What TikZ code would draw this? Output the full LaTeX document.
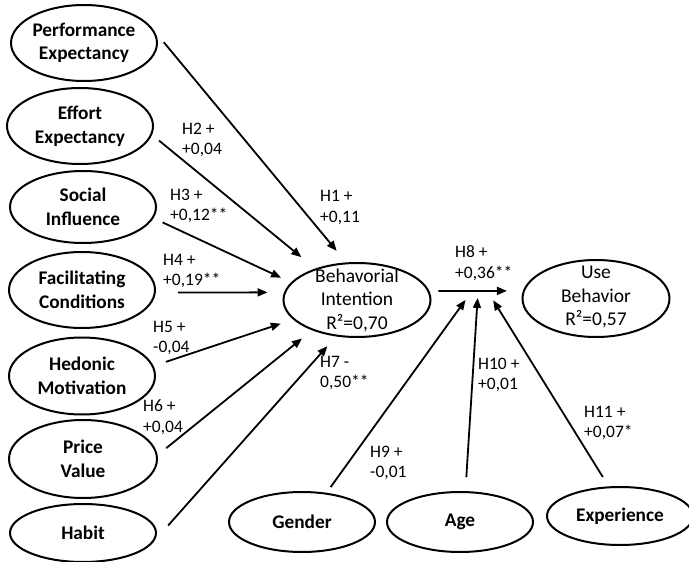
\documentclass[tikz,border=0pt]{standalone}
\usepackage{fontspec}
\setmainfont{Carlito}
\usetikzlibrary{shapes.geometric,arrows.meta}
\tikzset{
    construct/.style={
        ellipse, draw, line width=2pt,
        minimum width=146pt, inner sep=0pt, align=center,
        font=\fontsize{19.3}{23.5}\selectfont\bfseries
    },
    outcome/.style={
        ellipse, draw, line width=2pt,
        minimum width=147pt, inner sep=0pt
    },
    outcome text/.style={
        align=center, inner sep=0pt,
        font=\fontsize{19.5}{23.5}\selectfont
    },
    hyp/.style={
        line width=1.8pt,
        -{Triangle[length=10pt,width=8pt]}
    },
    coef/.style={
        anchor=west, align=left, inner sep=0pt,
        font=\fontsize{17.5}{20.5}\selectfont
    }
}

\begin{document}
\begin{tikzpicture}[x=1pt,y=-1pt]
    \useasboundingbox (0,0) rectangle (689,562);

    \node[construct, minimum height=76pt] (pe) at (84,43) {Performance\\Expectancy};
    \node[construct, minimum height=76pt] (ee) at (80,126) {Effort\\Expectancy};
    \node[construct, minimum height=72pt] (si) at (83,207) {Social\\Influence};
    \node[construct, minimum height=76pt] (fc) at (82,290) {Facilitating\\Conditions};
    \node[construct, minimum height=77pt] (hm) at (82,376) {Hedonic\\Motivation};
    \node[construct, minimum height=78pt, minimum width=148pt] (pv) at (83,459) {Price\\Value};
    \node[construct, minimum height=58pt] (hb) at (83,533) {Habit};

    \node[outcome, minimum height=74pt] (bi) at (357,300) {};
    \node[outcome text] (bi-text) at (bi) {Behavorial\\Intention\\R²=0,70};
    \node[outcome, minimum height=77pt] (ub) at (596,298.5) {};
    \node[outcome text] (ub-text) at (596,297) {Use\\Behavior\\R²=0,57};

    \node[construct, minimum height=60pt] (gen) at (302,522) {Gender};
    \node[construct, minimum height=60pt] (age) at (460,522) {Age};
    \node[construct, minimum height=58pt] (exp) at (620,516) {Experience};

    \draw[hyp, shorten <=15pt, shorten >=15pt] (pe.10) -- (bi.106);
    \draw[hyp, shorten <=9pt, shorten >=18pt] (ee.-7) -- (bi.143);
    \draw[hyp, shorten <=10pt, shorten >=11pt] (si.-9) -- (bi.165);
    \draw[hyp, shorten <=22pt, shorten >=16.5pt] (fc.-2) -- (bi.174);
    \draw[hyp, shorten <=13pt, shorten >=13pt] (hm.8) -- (bi.197);
    \draw[hyp, shorten <=11pt, shorten >=13pt] (pv.3) -- (bi.214);
    \draw[hyp, shorten <=26pt, shorten >=13pt] (hb.-10) -- (bi.240);
    \draw[hyp, shorten <=9pt, shorten >=16pt] (bi.7) -- (ub.174)
        coordinate[pos=.455] (m9) coordinate[pos=.52] (m10) coordinate[pos=.62] (m11);
    \draw[hyp, shorten <=7pt, shorten >=11pt] (gen.50) -- (m9);
    \draw[hyp, shorten <=14pt, shorten >=7pt] (age.80) -- (m10);
    \draw[hyp, shorten <=11pt, shorten >=11pt] (exp.111) -- (m11);

    \node[coef] (h1) at (320,207.5) {H1 +\\+0,11};
    \node[coef] (h2) at (182,140) {H2 +\\+0,04};
    \node[coef] (h3) at (170,206) {H3 +\\+0,12**};
    \node[coef] (h4) at (163,271) {H4 +\\+0,19**};
    \node[coef] (h5) at (153,338) {H5 +\\-0,04};
    \node[coef] (h6) at (143,417) {H6 +\\+0,04};
    \node[coef] (h7) at (320,373) {H7 -\\0,50**};
    \node[coef] (h8) at (455,263) {H8 +\\+0,36**};
    \node[coef] (h9) at (370,463) {H9 +\\-0,01};
    \node[coef] (h10) at (478,375) {H10 +\\+0,01};
    \node[coef] (h11) at (584,423) {H11 +\\+0,07*};
\end{tikzpicture}
\end{document}
